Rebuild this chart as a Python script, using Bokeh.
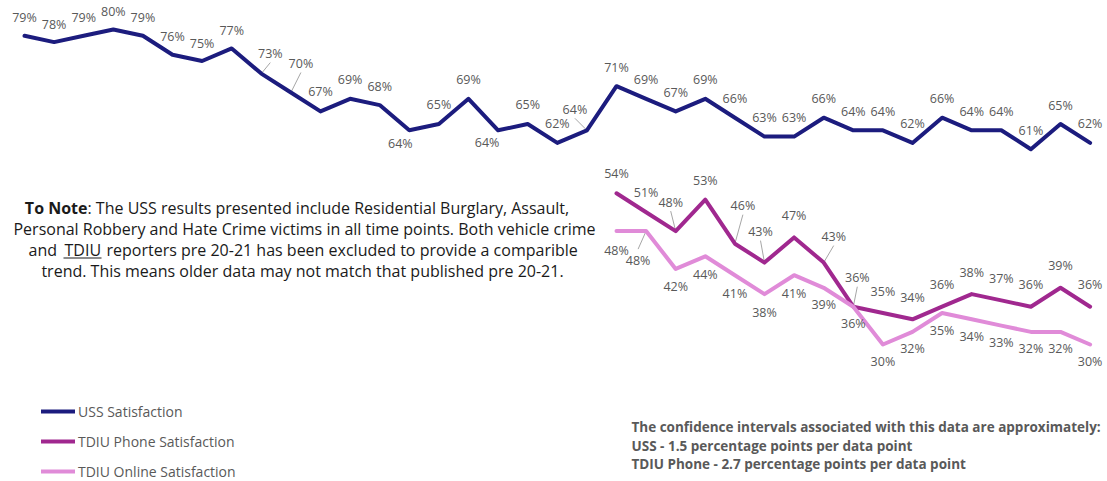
from bokeh.plotting import figure
from bokeh.models import ColumnDataSource, Label, Legend, LegendItem, BoxAnnotation, Range1d
from bokeh.embed import file_html
from bokeh.resources import INLINE
from bokeh.core.properties import value

# ---------------- data ----------------
uss = [79, 78, 79, 80, 79, 76, 75, 77, 73, 70, 67, 69, 68, 64, 65, 69, 64, 65, 62, 64,
       71, 69, 67, 69, 66, 63, 63, 66, 64, 64, 62, 66, 64, 64, 61, 65, 62]
tdiu_phone = [54, 51, 48, 53, 46, 43, 47, 43, 36, 35, 34, 36, 38, 37, 36, 39, 36]
tdiu_online = [48, 48, 42, 44, 41, 38, 41, 39, 36, 30, 32, 35, 34, 33, 32, 32, 30]
tdiu_start = 20  # time point at which the TDIU series begin

series_names = ["USS Satisfaction", "TDIU Phone Satisfaction", "TDIU Online Satisfaction"]

# ---------------- label layout (pixel offsets from each point) ----------------
uss_off = [(0, -18)] * 8 + [(9, -20), (10, -29), (0, -20), (0, -19), (0, -19), (-9, 13),
           (0, -20), (0, -19), (-11, 12), (0, -20), (0, -19), (-12, -21)] + [(0, -19)] * 17
uss_lead = [False] * 8 + [True, True] + [False] * 9 + [True] + [False] * 17
phone_off = [(0, -20), (0, -20), (-5, -29), (0, -19), (8, -38), (-4, -31), (0, -22),
             (10, -26), (4, -29)] + [(0, -22)] * 8
phone_lead = [False, False, True, False, True, True, False, True, True] + [False] * 8
online_off = [(0, 19), (-8, 29)] + [(0, 18)] * 5 + [(0, 17)] * 10
online_lead = [False, True] + [False] * 15

W, H = 1107, 481
PXX, PXY = 29.6, 6.3          # pixels per time point / per percentage point
X0, Y80 = 24, 29              # pixel position of the first point / of 80%

C_USS, C_PH, C_ON = "#1c1c7e", "#a0288f", "#e08bd8"
LBL = "#595959"
FONT = "Open Sans"

p = figure(width=W, height=H, output_backend="svg", toolbar_location=None,
           x_axis_type=None, y_axis_type=None, min_border=0,
           x_range=Range1d(-X0 / PXX, (W - X0) / PXX),
           y_range=Range1d(80 + Y80 / PXY - H / PXY, 80 + Y80 / PXY))
p.grid.visible = False
p.outline_line_color = None
p.background_fill_color = "white"
p.border_fill_color = "white"


def build(vals, start, offs, leads):
    xs = [start + i for i in range(len(vals))]
    lx = [x + o[0] / PXX for x, o in zip(xs, offs)]
    ly = [v - o[1] / PXY for v, o in zip(vals, offs)]
    txt = [f"{v}%" for v in vals]
    seg = dict(x0=[], y0=[], x1=[], y1=[])
    for x, v, o, l in zip(xs, vals, offs, leads):
        if l:
            e = 9 if o[1] < 0 else -11
            seg["x0"].append(x)
            seg["y0"].append(v)
            seg["x1"].append(x + o[0] / PXX)
            seg["y1"].append(v - (o[1] + e) / PXY)
    return (ColumnDataSource(dict(x=xs, y=vals)),
            ColumnDataSource(dict(x=lx, y=ly, t=txt)),
            ColumnDataSource(seg))


sets = [
    (uss, 0, uss_off, uss_lead, C_USS),
    (tdiu_phone, tdiu_start, phone_off, phone_lead, C_PH),
    (tdiu_online, tdiu_start, online_off, online_lead, C_ON),
]
renderers = []
label_sources = []
for vals, start, offs, leads, col in sets:
    src, lsrc, ssrc = build(vals, start, offs, leads)
    p.segment(x0="x0", y0="y0", x1="x1", y1="y1", source=ssrc, line_color="#a6a6a6", line_width=1)
    label_sources.append(lsrc)
    renderers.append((src, col))

line_rs = []
for src, col in renderers:
    r = p.line("x", "y", source=src, line_color=col, line_width=4, line_join="round", line_cap="round")
    line_rs.append(r)

for lsrc in label_sources:
    p.text(x="x", y="y", text="t", source=lsrc, text_font=value(FONT), text_font_size=value("12.5px"),
           text_color=LBL, text_align="center", text_baseline="middle")

# ---------------- legend ----------------
legend = Legend(items=[LegendItem(label=n, renderers=[r]) for n, r in zip(series_names, line_rs)],
                location=(41, 0), orientation="vertical", glyph_width=34, glyph_height=20,
                label_height=20, label_standoff=3, spacing=10, padding=0, margin=0,
                border_line_color=None, background_fill_alpha=0,
                label_text_font=FONT, label_text_font_size="14px", label_text_color=LBL)
p.add_layout(legend)

# ---------------- note text ----------------
NOTE_C = "#1a1a1a"
nf = dict(x_units="screen", y_units="screen", text_font=FONT, text_font_size="16px",
          text_color=NOTE_C, text_baseline="middle")
p.add_layout(Label(x=87, y=274, text="To Note", text_align="right", text_font_style="bold", **nf))
p.add_layout(Label(x=87, y=274, text=": The USS results presented include Residential Burglary, Assault,",
                   text_align="left", **nf))
p.add_layout(Label(x=304, y=253, text="Personal Robbery and Hate Crime victims in all time points. Both vehicle crime",
                   text_align="center", **nf))
p.add_layout(Label(x=28, y=232, text="and", text_align="left", **nf))
p.add_layout(Label(x=64, y=232, text="TDIU", text_align="left", **nf))
p.add_layout(Label(x=106, y=232, text="reporters pre 20-21 has been excluded to provide a comparible",
                   text_align="left", **nf))
p.add_layout(BoxAnnotation(left=63, right=101, bottom=223, top=224, left_units="screen", right_units="screen",
                           bottom_units="screen", top_units="screen", fill_color=NOTE_C, fill_alpha=1,
                           line_color=None))
p.add_layout(Label(x=302, y=211, text="trend. This means older data may not match that published pre 20-21.",
                   text_align="center", **nf))

# ---------------- confidence interval text ----------------
cf = dict(x_units="screen", y_units="screen", text_font=FONT, text_font_size="13.5px",
          text_font_style="bold", text_color=LBL, text_baseline="middle", text_align="left")
p.add_layout(Label(x=631, y=55, text="The confidence intervals associated with this data are approximately:", **cf))
p.add_layout(Label(x=631, y=36, text="USS -  1.5 percentage points per data point", **cf))
p.add_layout(Label(x=631, y=18, text="TDIU Phone - 2.7 percentage points per data point", **cf))

open("out.html", "w").write(file_html(p, INLINE))
